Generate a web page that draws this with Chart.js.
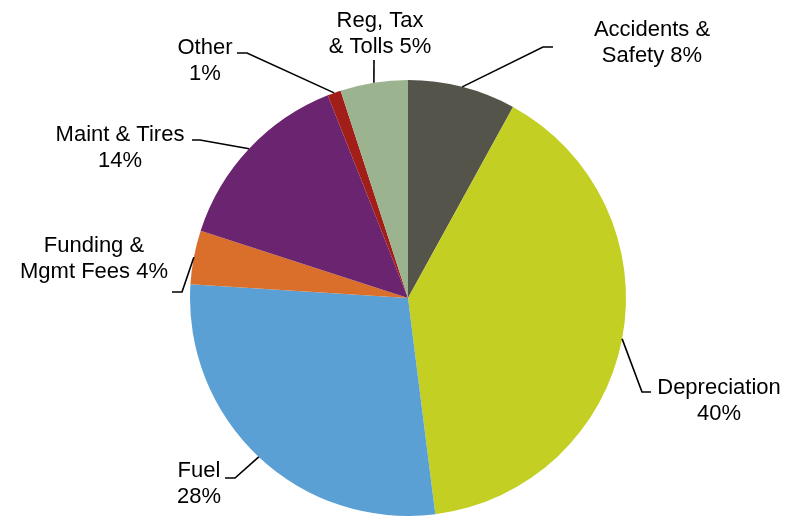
<!DOCTYPE html>
<html>
<head>
<meta charset="utf-8">
<script src="https://cdn.jsdelivr.net/npm/chart.js@4/dist/chart.umd.min.js"></script>
<style>
  html, body { margin: 0; padding: 0; background: #fff; }
  #wrap { width: 788px; height: 516px; }
</style>
</head>
<body>
<div id="wrap"><canvas id="costChart" width="788" height="516"></canvas></div>
<script>
// Cost breakdown, clockwise from 12 o'clock
const categories = [
  "Accidents & Safety",
  "Depreciation",
  "Fuel",
  "Funding & Mgmt Fees",
  "Maint & Tires",
  "Other",
  "Reg, Tax & Tolls",
];
const shares = [8, 40, 28, 4, 14, 1, 5];
const sliceColors = [
  "#55544a",
  "#c3cf22",
  "#5aa0d4",
  "#d96f2b",
  "#6b2570",
  "#a21e18",
  "#9bb48f",
];

// How each label wraps; the percentage goes on the last line
const labelLines = [
  ["Accidents &", "Safety"],
  ["Depreciation", ""],
  ["Fuel", ""],
  ["Funding &", "Mgmt Fees"],
  ["Maint & Tires", ""],
  ["Other", ""],
  ["Reg, Tax", "& Tolls"],
];

// Leader elbow/end points and text placement (canvas px)
const labelLayout = [
  { elbow: [543, 47], end: [553, 47], textX: 652, textY: 36 },
  { elbow: [642, 392], end: [651, 392], textX: 719, textY: 394 },
  { elbow: [235, 478], end: [225, 478], textX: 199, textY: 477 },
  { elbow: [182, 292], end: [172, 292], textX: 94, textY: 252 },
  { elbow: [200, 140], end: [192, 140], textX: 120, textY: 141 },
  { elbow: [247, 53], end: [237, 53], textX: 205, textY: 54 },
  { elbow: [374, 60], end: [374, 60], textX: 380, textY: 27 },
];

const LINE_HEIGHT = 26;

const leaderLabels = {
  id: "leaderLabels",
  afterDatasetsDraw(chart) {
    const ctx = chart.ctx;
    const meta = chart.getDatasetMeta(0);
    ctx.save();
    ctx.strokeStyle = "#000";
    ctx.lineWidth = 1.6;
    ctx.fillStyle = "#000";
    ctx.font = '22px "Liberation Sans", Arial, sans-serif';
    ctx.textAlign = "center";
    ctx.textBaseline = "alphabetic";

    meta.data.forEach((arc, i) => {
      const { x, y, startAngle, endAngle, outerRadius } = arc.getProps(
        ["x", "y", "startAngle", "endAngle", "outerRadius"],
        true
      );
      const mid = (startAngle + endAngle) / 2;
      const px = x + Math.cos(mid) * outerRadius;
      const py = y + Math.sin(mid) * outerRadius;
      const lay = labelLayout[i];

      ctx.beginPath();
      ctx.moveTo(px, py);
      ctx.lineTo(lay.elbow[0], lay.elbow[1]);
      ctx.lineTo(lay.end[0], lay.end[1]);
      ctx.stroke();

      const lines = labelLines[i].slice();
      const last = lines.length - 1;
      const pct = shares[i] + "%";
      lines[last] = lines[last] ? lines[last] + " " + pct : pct;
      lines.forEach((t, k) => {
        ctx.fillText(t, lay.textX, lay.textY + k * LINE_HEIGHT);
      });
    });
    ctx.restore();
  },
};

new Chart(document.getElementById("costChart"), {
  type: "pie",
  data: {
    labels: categories,
    datasets: [
      {
        data: shares,
        backgroundColor: sliceColors,
        borderWidth: 0,
      },
    ],
  },
  options: {
    responsive: false,
    animation: false,
    layout: {
      padding: { left: 190, top: 80, right: 162, bottom: 0 },
    },
    plugins: {
      legend: { display: false },
      tooltip: { enabled: false },
    },
  },
  plugins: [leaderLabels],
});
</script>
</body>
</html>
